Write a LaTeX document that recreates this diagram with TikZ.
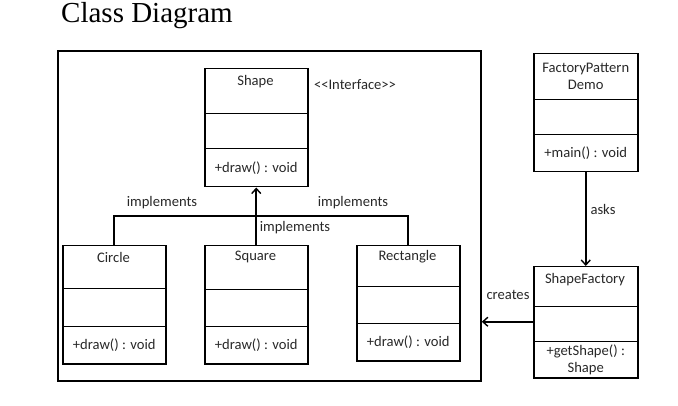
\documentclass[tikz,border=0pt]{standalone}
\usepackage{fontspec}
\setmainfont{Carlito}
\newfontfamily\titlefont{Liberation Serif}
\usetikzlibrary{arrows.meta}
\definecolor{txtc}{RGB}{40,40,40}
\begin{document}
\begin{tikzpicture}[x=1pt,y=-1pt,
  comp/.style={draw=black,line width=1.5pt,rectangle,inner sep=0pt,anchor=north west,minimum width=103pt,
     font=\fontsize{14.6}{17}\selectfont,text=txtc,align=center},
  txt/.style={font=\fontsize{14.6}{17}\selectfont,text=txtc,inner sep=0pt,align=center},
  conn/.style={line width=1.6pt,black},
  arr/.style={conn,-{Straight Barb[length=5pt,width=9pt,line width=1.4pt]}}]
\useasboundingbox (0,0) rectangle (678,406);
\node[font=\titlefont\fontsize{29}{30}\selectfont,anchor=base west,inner sep=0pt] (title) at (61,23) {Class Diagram};
% frame
\node[draw=black,line width=1.8pt,rectangle,inner sep=0pt,anchor=north west,minimum width=423pt,minimum height=330pt] (frame) at (57,50) {};
% Shape
\node[comp,minimum height=45pt] (sh1) at (204,68) {};
\node[comp,minimum height=35pt] (sh2) at (204,113) {};
\node[comp,minimum height=38pt] (sh3) at (204,148) {+draw() : void};
\node[txt] (shT) at (255.5,82) {Shape};
\node[txt] (iface) at (355,85) {<{}<Interface>{}>};
% Circle
\node[comp,minimum height=43pt] (ci1) at (62,245) {};
\node[comp,minimum height=38pt] (ci2) at (62,288) {};
\node[comp,minimum height=37pt] (ci3) at (62,326) {+draw() : void};
\node[txt] (ciT) at (113.5,257) {Circle};
% Square
\node[comp,minimum height=44pt] (sq1) at (204,245) {};
\node[comp,minimum height=37pt] (sq2) at (204,289) {};
\node[comp,minimum height=37pt] (sq3) at (204,326) {+draw() : void};
\node[txt] (sqT) at (255.5,257) {Square};
% Rectangle
\node[comp,minimum height=41pt] (re1) at (356,245) {};
\node[comp,minimum height=37pt] (re2) at (356,286) {};
\node[comp,minimum height=37pt] (re3) at (356,323) {+draw() : void};
\node[txt] (reT) at (407.5,257) {Rectangle};
% FactoryPatternDemo
\node[comp,minimum height=46pt,minimum width=104pt] (fp1) at (533,53) {FactoryPattern\\Demo};
\node[comp,minimum height=35pt,minimum width=104pt] (fp2) at (533,99) {};
\node[comp,minimum height=37pt,minimum width=104pt] (fp3) at (533,134) {+main() : void};
% ShapeFactory
\node[comp,minimum height=40pt,minimum width=104pt] (sf1) at (533,266) {};
\node[comp,minimum height=35pt,minimum width=104pt] (sf2) at (533,306) {};
\node[comp,minimum height=36pt,minimum width=104pt] (sf3) at (533,341) {+getShape() :\\Shape};
\node[txt] (sfT) at (585,280) {ShapeFactory};
% connectors
\coordinate (jun) at (255.5,216);
\draw[conn] (ci1.north) |- (jun) -| (re1.north);
\draw[arr] (sq1.north) -- (sh3.south);
\draw[arr] (fp3.south) -- (sf1.north);
\draw[arr] ([yshift=2.5pt]sf2.west) -- ([yshift=2.5pt]sf2.west -| frame.east);
% labels
\node[txt] (l1) at (162,203) {implements};
\node[txt] (l2) at (353,203) {implements};
\node[txt] (l3) at (295,228) {implements};
\node[txt] (asks) at (603,209) {asks};
\node[txt] (creates) at (508,295) {creates};
\end{tikzpicture}
\end{document}
